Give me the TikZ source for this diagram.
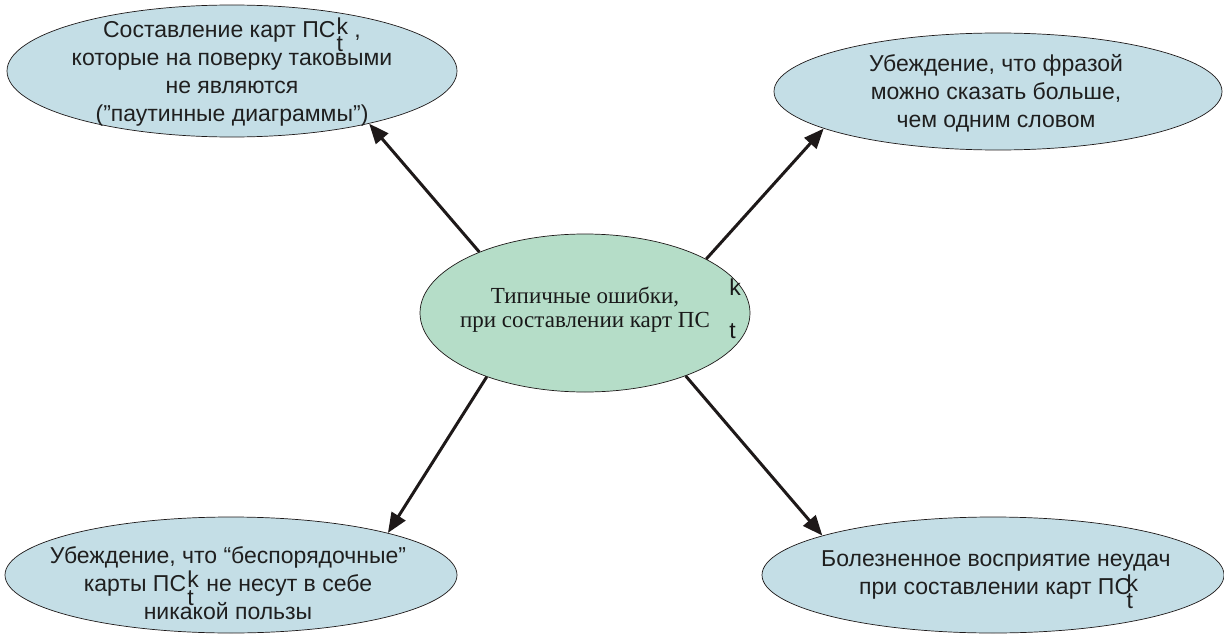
\documentclass[tikz,border=0pt]{standalone}
\usepackage{fontspec}
\setmainfont{Liberation Sans}
\newfontfamily\sanscyr{Liberation Sans}
\newfontfamily\serifcyr{Liberation Serif}
\usetikzlibrary{arrows.meta,shapes.geometric}

\definecolor{bubbleblue}{RGB}{196,222,230}
\definecolor{coregreen}{RGB}{181,221,200}
\definecolor{inkline}{RGB}{30,25,25}

% stacked k over t after "ПС": #1 raise of k, #2 drop of t, #3 kern before the stack
\newcommand\ktstack[3]{\kern#3\smash{\rlap{\raisebox{#1}{\sanscyr k}}\raisebox{-#2}{\sanscyr t}}}

\begin{document}
\begin{tikzpicture}[x=1pt,y=-1pt,
  bubble/.style={ellipse, draw=inkline, line width=0.7pt, fill=bubbleblue, inner sep=0pt},
  core/.style={bubble, fill=coregreen},
  caption/.style={align=center, text=black!88, inner sep=0pt,
    font=\sanscyr\fontsize{23}{28}\selectfont},
  corecaption/.style={align=center, text=black!90, inner sep=0pt,
    font=\serifcyr\fontsize{23}{24}\selectfont},
  link/.style={draw=inkline, line width=3pt, -{Triangle[length=20pt,width=16pt]}}]
\useasboundingbox (0,0) rectangle (1224,634);

% ellipses
\node[bubble, minimum width=450pt, minimum height=132pt] (tl) at (232,71) {};
\node[bubble, minimum width=448pt, minimum height=117pt] (tr) at (998,91.5) {};
\node[bubble, minimum width=452pt, minimum height=116pt] (bl) at (231,575) {};
\node[bubble, minimum width=462pt, minimum height=116pt] (br) at (993,575) {};
\node[core, minimum width=330pt, minimum height=158pt] (core) at (585,313) {};

% captions
\node[caption] (tltext) at (232,74) {Составление карт ПС\ktstack{0.15em}{0.6em}{0.05em}\,\,\,,\\которые на поверку таковыми\\не являются\\(”паутинные диаграммы”)};
\node[caption] (trtext) at (996,93) {Убеждение, что фразой\\можно сказать больше,\\чем одним словом};
\node[caption] (bltext) at (228,583) {Убеждение, что “беспорядочные”\\карты ПС\ktstack{0.15em}{0.6em}{0.05em}\ \ не несут в себе\\никакой пользы};
\node[caption] (brtext) at (996,575) {Болезненное восприятие неудач\\при составлении карт ПС\ktstack{0.15em}{0.6em}{-0.2em}};
\node[corecaption] (coretext) at (585,310) {Типичные ошибки,\\при составлении карт ПС\rlap{\ktstack{1.4em}{0.45em}{0.85em}}};

% connectors
\draw[link] (core.150) -- (tl.339.4);
\draw[link] (core.24.9) -- (tr.192.7);
\draw[link] (core.213.6) -- (bl.15.7);
\draw[link] (core.328.5) -- (br.167.6);
\end{tikzpicture}
\end{document}
